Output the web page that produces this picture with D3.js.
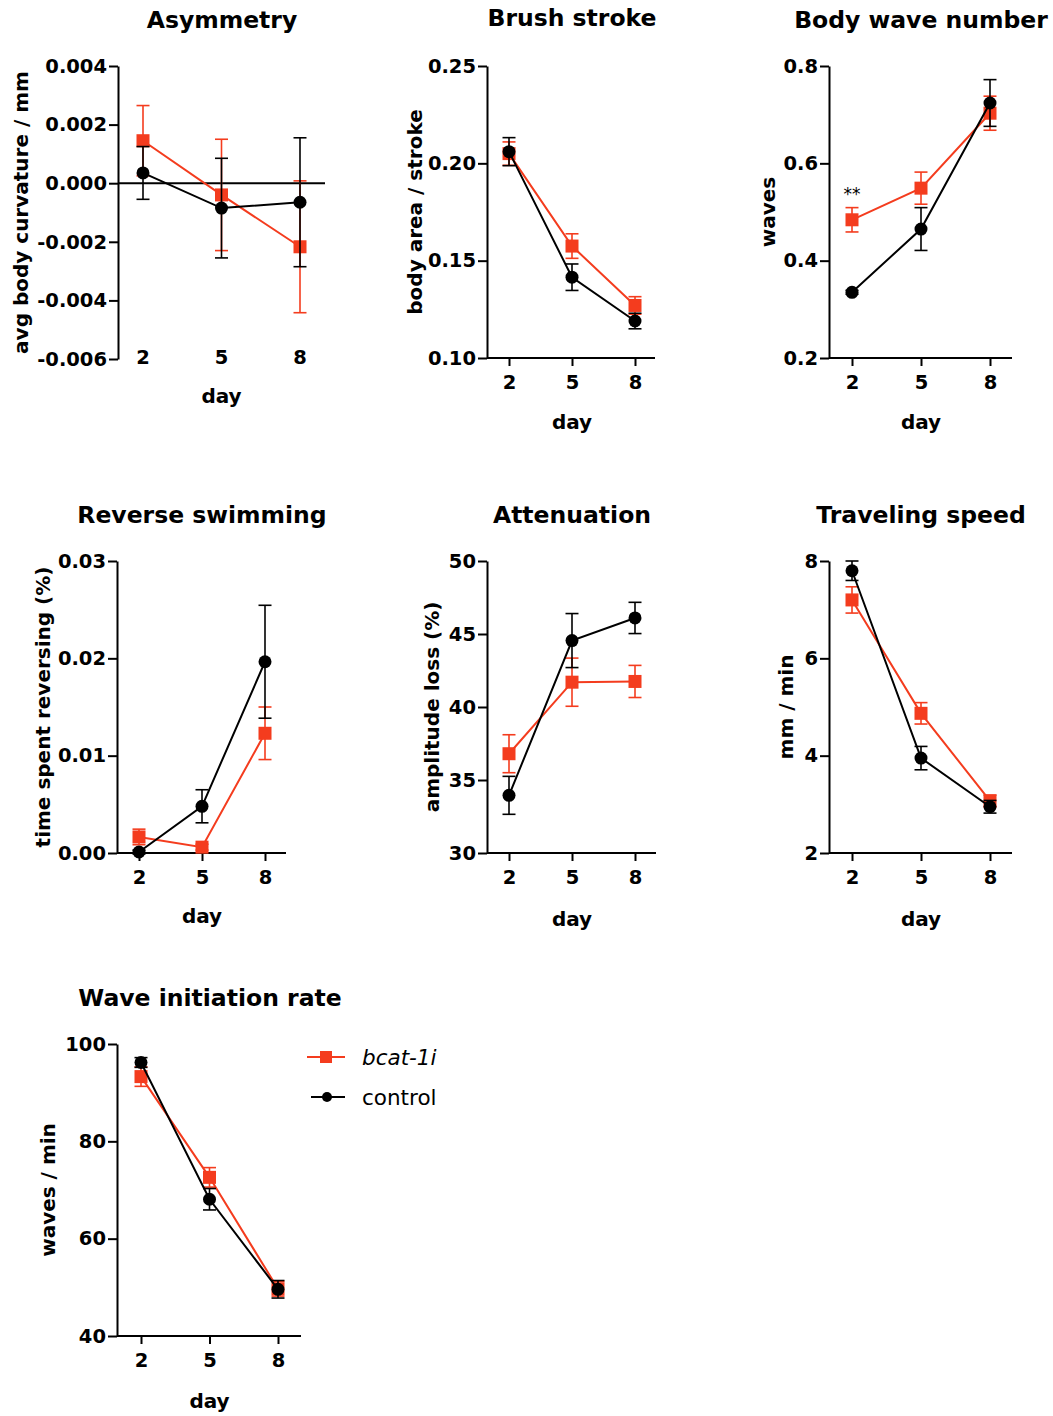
<!DOCTYPE html>
<html>
<head>
<meta charset="utf-8">
<script src="https://cdn.jsdelivr.net/npm/d3@7"></script>
<style>
  body { margin: 0; background: #fff; }
  svg text { font-family: "DejaVu Sans", "Liberation Sans", Arial, sans-serif; }
</style>
</head>
<body>
<svg id="chart" width="1053" height="1416"></svg>
<script>
// days measured
const days = [2, 5, 8];

// Asymmetry (avg body curvature / mm)
const asymBcat = [0.00145, -0.0004, -0.00217];
const asymBcatErr = [0.0012, 0.0019, 0.00225];
const asymCtrl = [0.00035, -0.00085, -0.00065];
const asymCtrlErr = [0.0009, 0.0017, 0.0022];
const asymTicks = [-0.006, -0.004, -0.002, 0, 0.002, 0.004];

// Brush stroke (body area / stroke)
const brushBcat = [0.205, 0.1575, 0.127];
const brushBcatErr = [0.006, 0.0063, 0.0045];
const brushCtrl = [0.206, 0.1415, 0.119];
const brushCtrlErr = [0.0072, 0.0068, 0.004];
const brushTicks = [0.10, 0.15, 0.20, 0.25];

// Body wave number (waves)
const waveNumBcat = [0.484, 0.549, 0.703];
const waveNumBcatErr = [0.025, 0.033, 0.035];
const waveNumCtrl = [0.335, 0.465, 0.724];
const waveNumCtrlErr = [0.004, 0.044, 0.048];
const waveNumTicks = [0.2, 0.4, 0.6, 0.8];

// Reverse swimming (time spent reversing, %)
const reverseBcat = [0.00165, 0.0006, 0.0123];
const reverseBcatErr = [0.0008, 0.0003, 0.0027];
const reverseCtrl = [0.0001, 0.0048, 0.01965];
const reverseCtrlErr = [0.0002, 0.0017, 0.0058];
const reverseTicks = [0, 0.01, 0.02, 0.03];

// Attenuation (amplitude loss, %)
const attenBcat = [36.8, 41.7, 41.75];
const attenBcatErr = [1.3, 1.65, 1.1];
const attenCtrl = [33.95, 44.55, 46.1];
const attenCtrlErr = [1.3, 1.85, 1.07];
const attenTicks = [30, 35, 40, 45, 50];

// Traveling speed (mm / min)
const speedBcat = [7.2, 4.87, 3.07];
const speedBcatErr = [0.27, 0.22, 0.12];
const speedCtrl = [7.8, 3.95, 2.95];
const speedCtrlErr = [0.2, 0.24, 0.13];
const speedTicks = [2, 4, 6, 8];

// Wave initiation rate (waves / min)
const initBcat = [93.3, 72.6, 49.7];
const initBcatErr = [2.0, 2.0, 1.5];
const initCtrl = [96.2, 68.1, 49.6];
const initCtrlErr = [1.0, 2.2, 1.8];
const initTicks = [40, 60, 80, 100];

const seriesNames = ["bcat-1i", "control"];
const RED = "#f43c1e";
const BLACK = "#000";
const FONT = "'DejaVu Sans', 'Liberation Sans', Arial, sans-serif";

const svg = d3.select("#chart");

// panel layout: axis x, plot top/bottom, x range, axis end
const panels = [
  { title: "Asymmetry", ylabel: "avg body curvature / mm", bcat: asymBcat, bcatErr: asymBcatErr, ctrl: asymCtrl, ctrlErr: asymCtrlErr,
    ticks: asymTicks, fmt: d => d.toFixed(3), ax: 118, top: 66, bottom: 359, xr: [143, 300], xend: 325,
    titleX: 222, titleY: 28, ylabX: 28, dayY: 403, noXAxis: true, tickLabelY: 364 },
  { title: "Brush stroke", ylabel: "body area / stroke", bcat: brushBcat, bcatErr: brushBcatErr, ctrl: brushCtrl, ctrlErr: brushCtrlErr,
    ticks: brushTicks, fmt: d => d.toFixed(2), ax: 487, top: 66, bottom: 358, xr: [509, 635], xend: 655,
    titleX: 572, titleY: 26, ylabX: 422, dayY: 429 },
  { title: "Body wave number", ylabel: "waves", bcat: waveNumBcat, bcatErr: waveNumBcatErr, ctrl: waveNumCtrl, ctrlErr: waveNumCtrlErr,
    ticks: waveNumTicks, fmt: d => d.toFixed(1), ax: 829, top: 66, bottom: 358, xr: [852, 990], xend: 1012,
    titleX: 921, titleY: 28, ylabX: 775, dayY: 429, star: 0 },
  { title: "Reverse swimming", ylabel: "time spent reversing (%)", bcat: reverseBcat, bcatErr: reverseBcatErr, ctrl: reverseCtrl, ctrlErr: reverseCtrlErr,
    ticks: reverseTicks, fmt: d => d.toFixed(2), ax: 117, top: 561, bottom: 853, xr: [139, 265], xend: 286,
    titleX: 202, titleY: 523, ylabX: 50, dayY: 923 },
  { title: "Attenuation", ylabel: "amplitude loss (%)", bcat: attenBcat, bcatErr: attenBcatErr, ctrl: attenCtrl, ctrlErr: attenCtrlErr,
    ticks: attenTicks, fmt: d3.format("d"), ax: 487, top: 561, bottom: 853, xr: [509, 635], xend: 656,
    titleX: 572, titleY: 523, ylabX: 439, dayY: 926 },
  { title: "Traveling speed", ylabel: "mm / min", bcat: speedBcat, bcatErr: speedBcatErr, ctrl: speedCtrl, ctrlErr: speedCtrlErr,
    ticks: speedTicks, fmt: d3.format("d"), ax: 829, top: 561, bottom: 853, xr: [852, 990], xend: 1012,
    titleX: 921, titleY: 523, ylabX: 793, dayY: 926 },
  { title: "Wave initiation rate", ylabel: "waves / min", bcat: initBcat, bcatErr: initBcatErr, ctrl: initCtrl, ctrlErr: initCtrlErr,
    ticks: initTicks, fmt: d3.format("d"), ax: 117, top: 1044, bottom: 1336, xr: [141, 278], xend: 301,
    titleX: 210, titleY: 1006, ylabX: 55, dayY: 1408 }
];

function drawPanel(p) {
  const g = svg.append("g");
  const x = d3.scaleLinear().domain([2, 8]).range(p.xr);
  const y = d3.scaleLinear().domain(d3.extent(p.ticks)).range([p.bottom, p.top]);

  // title
  g.append("text").attr("x", p.titleX).attr("y", p.titleY)
    .attr("text-anchor", "middle").attr("font-size", 23.5).attr("font-weight", "bold")
    .text(p.title);

  // y axis
  const yAxis = g.append("g").attr("transform", `translate(${p.ax},0)`)
    .call(d3.axisLeft(y).tickValues(p.ticks).tickFormat(p.fmt).tickSize(9).tickPadding(2).tickSizeOuter(0));
  yAxis.attr("font-family", FONT);
  yAxis.select(".domain").attr("stroke-width", 2);
  yAxis.selectAll(".tick line").attr("stroke-width", 2);
  yAxis.selectAll("text").attr("font-size", 19.5).attr("font-weight", "bold").attr("fill", "#000");

  // y label
  g.append("text")
    .attr("transform", `translate(${p.ylabX},${(p.top + p.bottom) / 2}) rotate(-90)`)
    .attr("text-anchor", "middle").attr("font-size", 20).attr("font-weight", "bold")
    .text(p.ylabel);

  if (p.noXAxis) {
    // zero reference line, tick labels without an axis
    g.append("line").attr("x1", p.ax).attr("x2", p.xend).attr("y1", y(0)).attr("y2", y(0))
      .attr("stroke", "#000").attr("stroke-width", 2);
    g.selectAll(".xlab").data(days).join("text")
      .attr("x", d => x(d)).attr("y", p.tickLabelY).attr("text-anchor", "middle")
      .attr("font-size", 19.5).attr("font-weight", "bold").text(d => d);
  } else {
    const xAxis = g.append("g").attr("transform", `translate(0,${p.bottom})`)
      .call(d3.axisBottom(x).tickValues(days).tickFormat(d3.format("d")).tickSize(8).tickPadding(9).tickSizeOuter(0));
    xAxis.attr("font-family", FONT);
    xAxis.select(".domain").attr("d", `M${p.ax},0H${p.xend}`).attr("stroke-width", 2);
    xAxis.selectAll(".tick line").attr("stroke-width", 2);
    xAxis.selectAll("text").attr("font-size", 19.5).attr("font-weight", "bold").attr("fill", "#000");
  }

  // x label
  g.append("text").attr("x", (p.xr[0] + p.xr[1]) / 2).attr("y", p.dayY)
    .attr("text-anchor", "middle").attr("font-size", 20).attr("font-weight", "bold").text("day");

  const series = [
    { vals: p.bcat, errs: p.bcatErr, color: RED, shape: "square" },
    { vals: p.ctrl, errs: p.ctrlErr, color: BLACK, shape: "circle" }
  ];
  const line = d3.line().x((d, i) => x(days[i])).y(d => y(d));

  series.forEach(s => {
    const sg = g.append("g");
    sg.append("path").datum(s.vals).attr("d", line)
      .attr("fill", "none").attr("stroke", s.color).attr("stroke-width", 2);
    const eb = sg.selectAll(".eb").data(s.vals).join("g");
    eb.append("line").attr("x1", (d, i) => x(days[i])).attr("x2", (d, i) => x(days[i]))
      .attr("y1", (d, i) => y(d - s.errs[i])).attr("y2", (d, i) => y(d + s.errs[i]))
      .attr("stroke", s.color).attr("stroke-width", 1.6);
    [-1, 1].forEach(sign => {
      eb.append("line").attr("x1", (d, i) => x(days[i]) - 6.5).attr("x2", (d, i) => x(days[i]) + 6.5)
        .attr("y1", (d, i) => y(d + sign * s.errs[i])).attr("y2", (d, i) => y(d + sign * s.errs[i]))
        .attr("stroke", s.color).attr("stroke-width", 1.6);
    });
    if (s.shape === "square") {
      sg.selectAll(".mk").data(s.vals).join("rect")
        .attr("x", (d, i) => x(days[i]) - 6.5).attr("y", d => y(d) - 6.5)
        .attr("width", 13).attr("height", 13).attr("fill", s.color);
    } else {
      sg.selectAll(".mk").data(s.vals).join("circle")
        .attr("cx", (d, i) => x(days[i])).attr("cy", d => y(d)).attr("r", 6.5).attr("fill", s.color);
    }
  });

  if (p.star !== undefined) {
    g.append("text").attr("x", x(days[p.star])).attr("y", y(p.bcat[p.star] + p.bcatErr[p.star]))
      .attr("dy", -8).attr("text-anchor", "middle").attr("font-size", 17).text("**");
  }
}

panels.forEach(drawPanel);

// legend
const legend = svg.append("g").attr("transform", "translate(307,1057)");
const legendItems = [
  { name: seriesNames[0], color: RED, shape: "square", italic: true },
  { name: seriesNames[1], color: BLACK, shape: "circle", italic: false }
];
legendItems.forEach((d, i) => {
  const row = legend.append("g").attr("transform", `translate(0,${i * 40})`);
  row.append("line").attr("x1", i === 0 ? 0 : 4).attr("x2", 38).attr("y1", 0).attr("y2", 0)
    .attr("stroke", d.color).attr("stroke-width", 2);
  if (d.shape === "square") {
    row.append("rect").attr("x", 13).attr("y", -6).attr("width", 12).attr("height", 12).attr("fill", d.color);
  } else {
    row.append("circle").attr("cx", 20).attr("cy", 0).attr("r", 5).attr("fill", d.color);
  }
  row.append("text").attr("x", 55).attr("y", 8).attr("font-size", 21.5)
    .attr("font-style", d.italic ? "italic" : "normal").text(d.name);
});
</script>
</body>
</html>
